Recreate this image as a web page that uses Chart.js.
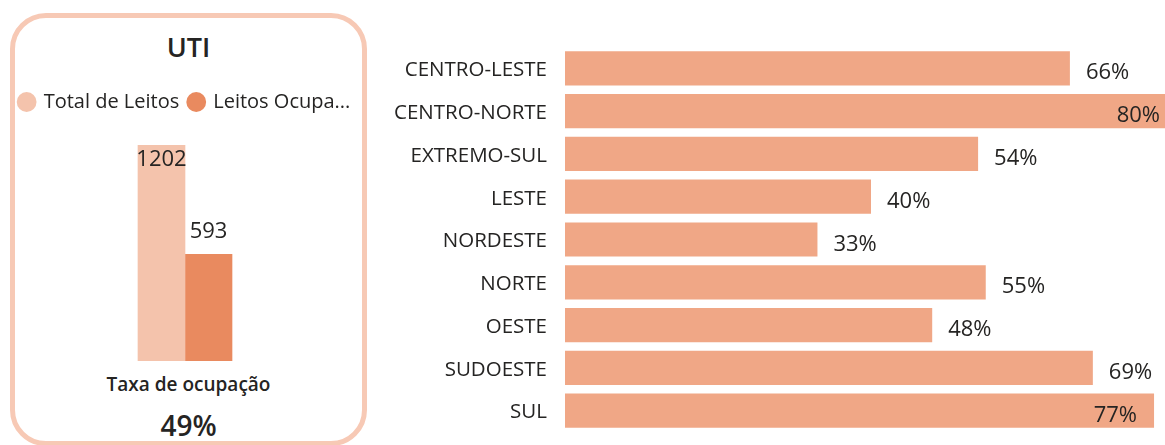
<!DOCTYPE html>
<html>
<head>
<meta charset="utf-8">
<title>UTI – Taxa de ocupação</title>
<script src="https://cdn.jsdelivr.net/npm/chart.js@4.4.0/dist/chart.umd.min.js"></script>
<style>
  html, body {
    margin: 0; padding: 0; background: #fff;
    width: 1165px; height: 445px; overflow: hidden; position: relative;
    font-family: "Open Sans", sans-serif; color: #252423;
  }
  #card {
    position: absolute; left: 10px; top: 13px; width: 357px; height: 433px;
    box-sizing: border-box; border: 5px solid #F7C9B5; border-radius: 36px;
  }
  .txt { position: absolute; left: 10px; width: 357px; text-align: center; white-space: nowrap; }
  #title { top: 30px; font-size: 27px; font-weight: 600; line-height: 34px; }
  #rate-label { top: 371px; font-size: 19px; font-weight: 600; line-height: 26px; }
  #rate-value { top: 406px; font-size: 28px; font-weight: 600; line-height: 38px; }
  #uti-wrap { position: absolute; left: 0; top: 82px; width: 370px; height: 279px; }
  #region-wrap { position: absolute; left: 380px; top: 47px; width: 820px; height: 385px; }
</style>
</head>
<body>
<div id="card"></div>
<div id="title" class="txt">UTI</div>
<div id="uti-wrap"><canvas id="chart-uti"></canvas></div>
<div id="rate-label" class="txt">Taxa de ocupação</div>
<div id="rate-value" class="txt"></div>
<div id="region-wrap"><canvas id="chart-regions"></canvas></div>

<script>
/* ---- Data ---- */
const utiSeries   = ["Total de Leitos", "Leitos Ocupados"];
const utiValues   = [1202, 593];

const regions     = ["CENTRO-LESTE", "CENTRO-NORTE", "EXTREMO-SUL", "LESTE", "NORDESTE",
                     "NORTE", "OESTE", "SUDOESTE", "SUL"];
const regionRates = [66, 80, 54, 40, 33, 55, 48, 69, 77];

/* ---- Style ---- */
const FONT       = "'Open Sans', sans-serif";
const TEXT       = "#252423";
const C_TOTAL    = "#F4C3AC";
const C_OCCUP    = "#E98A5F";
const C_REGION   = "#F0A786";
const LEGEND_MAX = 322;   // legend items get cut with "..." past this width

Chart.defaults.font.family = FONT;
Chart.defaults.color = TEXT;
Chart.defaults.animation = false;

/* value labels: outside the bar end when there is room, else just inside */
const valueLabels = {
  id: "valueLabels",
  afterDatasetsDraw(chart, args, opts) {
    const { ctx, chartArea } = chart;
    ctx.save();
    ctx.font = opts.size + "px " + FONT;
    ctx.fillStyle = TEXT;
    ctx.textBaseline = "alphabetic";
    chart.data.datasets.forEach((ds, di) => {
      chart.getDatasetMeta(di).data.forEach((bar, i) => {
        const txt = opts.format(ds.data[i]);
        const w = ctx.measureText(txt).width;
        if (chart.options.indexAxis === "y") {
          const out = bar.x + opts.gap + w <= chartArea.right;
          ctx.textAlign = out ? "left" : "right";
          ctx.fillText(txt, out ? bar.x + opts.gap : bar.x - opts.gap - 1, bar.y + 11);
        } else {
          const out = bar.y - opts.gap - opts.size >= chartArea.top;
          ctx.textAlign = "center";
          ctx.fillText(txt, bar.x, out ? bar.y - opts.gap : bar.y + 21);
        }
      });
    });
    ctx.restore();
  }
};

/* ---- UTI card ---- */
const legendSpace = {
  id: "legendSpace",
  beforeInit(chart) {
    const fit = chart.legend.fit;
    chart.legend.fit = function () {
      fit.bind(chart.legend)();
      this.height = 63;
    };
  }
};

function trimLegend(chart) {
  const items = Chart.defaults.plugins.legend.labels.generateLabels(chart);
  const lab = chart.options.plugins.legend.labels;
  const ctx = chart.ctx;
  ctx.save();
  ctx.font = lab.font.size + "px " + FONT;
  const itemW = t => lab.boxWidth + lab.font.size / 2 + ctx.measureText(t).width;
  let used = 0;
  items.forEach(it => {
    let base = it.text;
    while (used + itemW(it.text) > LEGEND_MAX && base.length > 3) {
      base = base.slice(0, -1);
      it.text = base + "...";
    }
    used += itemW(it.text);
  });
  ctx.restore();
  return items;
}

new Chart(document.getElementById("chart-uti"), {
  type: "bar",
  data: {
    labels: [""],
    datasets: [
      { label: utiSeries[0], data: [utiValues[0]], backgroundColor: C_TOTAL, barThickness: 47 },
      { label: utiSeries[1], data: [utiValues[1]], backgroundColor: C_OCCUP, barThickness: 47 }
    ]
  },
  options: {
    responsive: true,
    maintainAspectRatio: false,
    layout: { padding: 0 },
    scales: {
      x: { display: false },
      y: { display: false, min: 0, max: Math.max(...utiValues) }
    },
    plugins: {
      tooltip: { enabled: false },
      legend: {
        position: "top",
        labels: {
          usePointStyle: true, pointStyle: "circle",
          boxWidth: 14, boxHeight: 14, padding: 10,
          font: { size: 20 }, color: TEXT,
          generateLabels: trimLegend
        }
      },
      valueLabels: { size: 22, gap: 16, format: v => String(v) }
    }
  },
  plugins: [legendSpace, valueLabels]
});

document.getElementById("rate-value").textContent =
  Math.round(utiValues[1] / utiValues[0] * 100) + "%";

/* ---- Regions ---- */
new Chart(document.getElementById("chart-regions"), {
  type: "bar",
  data: {
    labels: regions,
    datasets: [{ data: regionRates, backgroundColor: C_REGION,
                 categoryPercentage: 0.8, barPercentage: 1 }]
  },
  options: {
    indexAxis: "y",
    responsive: true,
    maintainAspectRatio: false,
    layout: { autoPadding: false, padding: { right: 23, top: 0, bottom: 0, left: 0 } },
    scales: {
      x: { display: false, min: 0, max: Math.max(...regionRates) },
      y: {
        grid: { display: false, drawTicks: false },
        border: { display: false },
        ticks: { padding: 18, labelOffset: 2, font: { size: 20.5 }, color: TEXT },
        afterFit(scale) {
          scale.width = 185;
          scale.paddingTop = 0;
          scale.paddingBottom = 0;
        }
      }
    },
    plugins: {
      legend: { display: false },
      tooltip: { enabled: false },
      valueLabels: { size: 22, gap: 16, format: v => v + "%" }
    }
  },
  plugins: [valueLabels]
});
</script>
</body>
</html>
